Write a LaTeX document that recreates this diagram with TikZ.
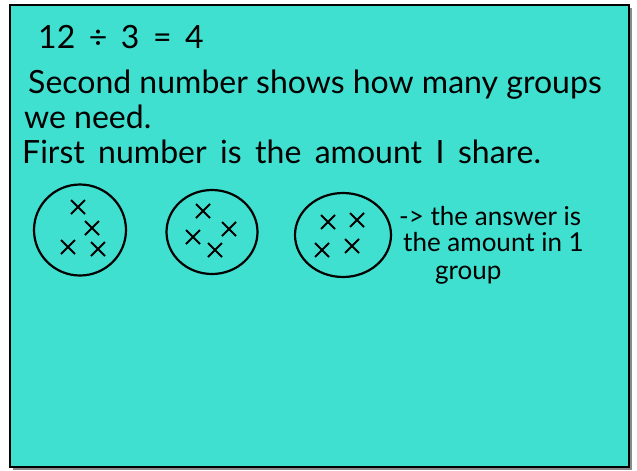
\documentclass[tikz,border=0pt]{standalone}
\usepackage{fontspec}
\setmainfont{Lato}
\usetikzlibrary{shapes.geometric,shapes.misc}
\definecolor{dvdTeal}{HTML}{40E0D0}
\definecolor{dvdInk}{HTML}{000000}
\definecolor{dvdShadow}{HTML}{8A8A8A}
\tikzset{
  dvd board/.style={fill=dvdTeal, draw=dvdInk, line width=1.8pt},
  dvd shadow/.style={fill=dvdShadow},
  dvd text/.style={font=\fontsize{32}{38}\selectfont, text=dvdInk, anchor=base west, inner sep=0pt},
  dvd note/.style={font=\fontsize{26}{30}\selectfont, text=dvdInk, anchor=base west, inner sep=0pt},
  dvd group/.style={ellipse, draw=dvdInk, line width=2.2pt, inner sep=0pt},
  dvd cross/.style={cross out, draw=dvdInk, line width=2pt, minimum size=12pt, inner sep=0pt},
}

\begin{document}
\begin{tikzpicture}[x=1pt, y=-1pt]
  \useasboundingbox (0,0) rectangle (637,471);
  % Board first, with its shadow behind it
  \fill[dvd shadow] (13,8) rectangle (632,470);
  \draw[dvd board] (10,5) rectangle (629,467);
  % Written lines
  \node[dvd text] (sum) at (38,48) {12 \,÷\, 3 \,=\, 4};
  \node[dvd text] (second) at (28,93) {Second number shows how many groups};
  \node[dvd text] (need) at (24,128) {we need.};
  \node[dvd text] (first) at (22,163) {\spaceskip=0.42em First number is the amount I share.};
  % Three groups of four
  \node[dvd group, minimum width=92pt, minimum height=91pt] (g1) at (80,230) {};
  \node[dvd group, minimum width=91pt, minimum height=84pt] (g2) at (212,232) {};
  \node[dvd group, minimum width=96pt, minimum height=84pt] (g3) at (343,235) {};
  \foreach \x/\y [count=\i] in {78/207, 92/228, 68/247, 98/249}
    \node[dvd cross] (a\i) at (\x,\y) {};
  \foreach \x/\y [count=\i] in {203/211, 229/229, 193/237, 215/250}
    \node[dvd cross] (b\i) at (\x,\y) {};
  \foreach \x/\y [count=\i] in {328/222, 357/220, 322/250, 352/246}
    \node[dvd cross] (c\i) at (\x,\y) {};
  % Note beside the last group
  \node[dvd note] (ans) at (399,225) {-> the answer is};
  \node[dvd note] (amount) at (403,251) {the amount in 1};
  \node[dvd note] (group) at (435,279) {group};
\end{tikzpicture}
\end{document}
